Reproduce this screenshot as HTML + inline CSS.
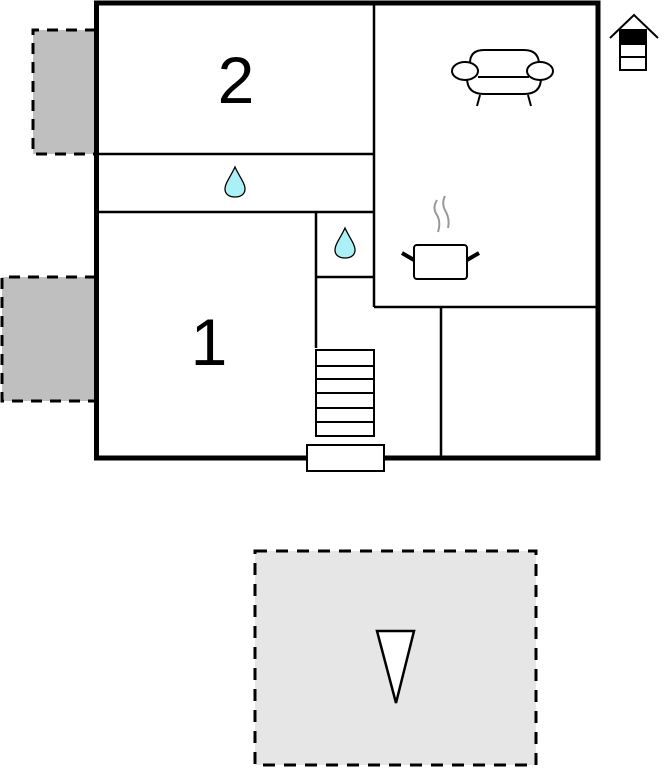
<!DOCTYPE html>
<html><head><meta charset="utf-8"><style>
html,body{margin:0;padding:0;background:#fff;}
svg{display:block;}
</style></head><body>
<svg width="670" height="768" viewBox="0 0 670 768" xmlns="http://www.w3.org/2000/svg">
<!-- gray side areas -->
<rect x="33" y="30" width="63" height="124" fill="#bfbfbf"/>
<path d="M96 30 H33 V154 H96" fill="none" stroke="#000" stroke-width="3" stroke-dasharray="11,8"/>
<rect x="2" y="277" width="94" height="124" fill="#bfbfbf"/>
<path d="M96 277 H2 V401 H96" fill="none" stroke="#000" stroke-width="3" stroke-dasharray="11,8"/>
<!-- terrace -->
<rect x="255" y="551" width="281" height="214" fill="#e6e6e6" stroke="#000" stroke-width="3" stroke-dasharray="12,9"/>
<polygon points="377,631 414,631 396,703" fill="#fff" stroke="#000" stroke-width="2.5"/>
<!-- outer wall -->
<rect x="96.5" y="3" width="501.5" height="455" fill="#fff" stroke="#000" stroke-width="5"/>
<!-- interior walls -->
<g stroke="#000" stroke-width="2.5" fill="none">
<line x1="96" y1="154" x2="374" y2="154"/>
<line x1="96" y1="212" x2="374" y2="212"/>
<line x1="374" y1="3" x2="374" y2="307"/>
<line x1="374" y1="307" x2="598" y2="307"/>
<line x1="441" y1="307" x2="441" y2="458"/>
<line x1="316" y1="212" x2="316" y2="348"/>
<line x1="316" y1="277" x2="374" y2="277"/>
</g>
<!-- stairs -->
<g stroke="#000" stroke-width="2" fill="#fff">
<rect x="316" y="350" width="58" height="86"/>
<line x1="316" y1="366" x2="374" y2="366"/>
<line x1="316" y1="379" x2="374" y2="379"/>
<line x1="316" y1="393" x2="374" y2="393"/>
<line x1="316" y1="408" x2="374" y2="408"/>
<line x1="316" y1="422" x2="374" y2="422"/>
</g>
<rect x="307" y="445" width="77" height="26" fill="#fff" stroke="#000" stroke-width="2"/>
<!-- labels -->
<text x="236" y="103" font-family="Liberation Sans, sans-serif" font-size="66" text-anchor="middle">2</text>
<text x="209" y="365" font-family="Liberation Sans, sans-serif" font-size="66" text-anchor="middle">1</text>
<!-- drops -->
<path d="M235 167 C231 176 225 183 225 189 C225 194 229 197 235 197 C241 197 245 194 245 189 C245 183 239 176 235 167Z" fill="#aaf0f4" stroke="#000" stroke-width="1.3"/>
<path d="M345 228 C341 237 335 244 335 250 C335 255 339 258 345 258 C351 258 355 255 355 250 C355 244 349 237 345 228Z" fill="#aaf0f4" stroke="#000" stroke-width="1.3"/>
<!-- sofa -->
<g stroke="#000" stroke-width="2" fill="#fff">
<path d="M470 63 Q470 50 484 50 H524 Q538 50 539 63"/>
<path d="M467 78 Q467 94 484 94 H524 Q541 94 541 78"/>
<line x1="478" y1="77" x2="529" y2="77"/>
<line x1="480" y1="95" x2="477" y2="106"/>
<line x1="528" y1="95" x2="531" y2="106"/>
<ellipse cx="465" cy="71" rx="13" ry="9"/>
<ellipse cx="540" cy="71" rx="13" ry="9"/>
</g>
<!-- pot -->
<g fill="none">
<path d="M437 200 Q432 208 437 215 Q441 222 438 232" stroke="#999" stroke-width="2"/>
<path d="M445 196 Q441 204 446 212 Q450 220 448 228" stroke="#999" stroke-width="2"/>
<rect x="414" y="245" width="53" height="34" rx="3" fill="#fff" stroke="#000" stroke-width="2"/>
<line x1="402" y1="253" x2="414" y2="260" stroke="#000" stroke-width="4"/>
<line x1="479" y1="253" x2="467" y2="260" stroke="#000" stroke-width="4"/>
</g>
<!-- house icon -->
<g stroke="#000" stroke-width="2" fill="#fff">
<polyline points="610,38 634,15 658,38" fill="none"/>
<rect x="620" y="30" width="26" height="40"/>
<rect x="620" y="30" width="26" height="14" fill="#000"/>
<line x1="620" y1="57" x2="646" y2="57"/>
</g>
</svg>
</body></html>
